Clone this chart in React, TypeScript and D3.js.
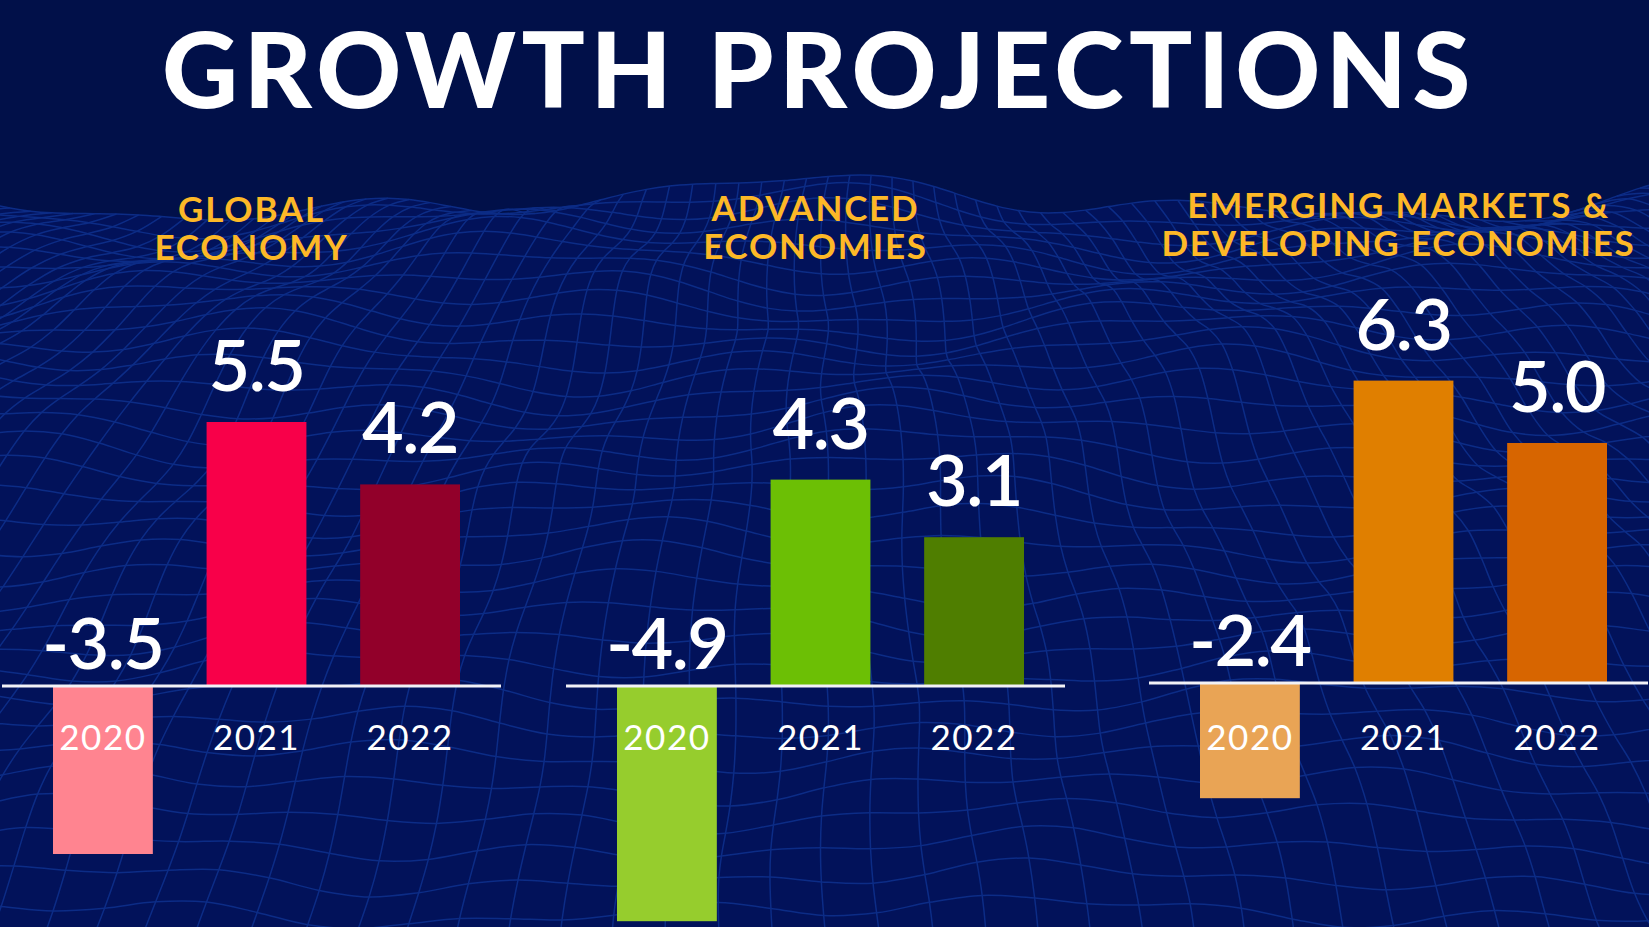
import React from 'react';
import * as d3 from 'd3';

const W = 1649;
const H = 927;

const years = ['2020', '2021', '2022'];
const panelTitleLines = [
  ['GLOBAL', 'ECONOMY'],
  ['ADVANCED', 'ECONOMIES'],
  ['EMERGING MARKETS &', 'DEVELOPING ECONOMIES'],
];
const globalValues = [-3.5, 5.5, 4.2];
const advancedValues = [-4.9, 4.3, 3.1];
const emergingValues = [-2.4, 6.3, 5.0];
const globalColors = ['#FF8490', '#F80049', '#92002A'];
const advancedColors = ['#96CD2D', '#6CBF05', '#4F7E00'];
const emergingColors = ['#E9A455', '#E07F00', '#D76500'];

const panels = [
  { titles: panelTitleLines[0], values: globalValues, colors: globalColors, x0: 2, baseline: 686, titleY: 222 },
  { titles: panelTitleLines[1], values: advancedValues, colors: advancedColors, x0: 566, baseline: 686, titleY: 221 },
  { titles: panelTitleLines[2], values: emergingValues, colors: emergingColors, x0: 1149, baseline: 683, titleY: 218 },
];

const PANEL_W = 499;
const PX_PER_UNIT = 48;

const BG = '#011049';
const BG_MESH = '#02125A';
const MESH = '#0C2C86';
const GOLD = '#FDB827';

function buildMesh() {
  const rows = 36;
  const cols = 96;
  const pts: [number, number][][] = [];
  for (let i = 0; i <= rows; i++) {
    const row: [number, number][] = [];
    const baseY = 200 + 10 * i + 0.35 * i * i;
    const spacing = 22 + i * 0.9;
    const amp = 16 - i * 0.2;
    for (let j = 0; j <= cols; j++) {
      const x = W / 2 + (j - cols / 2) * spacing + Math.sin(i * 0.7 + j * 0.3) * 4;
      const y =
        baseY +
        amp * Math.sin(x / 170 + i * 0.35) +
        amp * 0.6 * Math.sin(x / 73 - i * 0.5) +
        6 * Math.cos(x / 41 + i * 0.9);
      row.push([x, y]);
    }
    pts.push(row);
  }
  return pts;
}

export default function App() {
  const mesh = React.useMemo(buildMesh, []);
  const line = d3.line<[number, number]>().curve(d3.curveCatmullRom);
  const x = d3.scaleBand<string>().domain(years).range([51, 458]).paddingInner(0.35).paddingOuter(0);

  const meshRows = mesh.map((r) => line(r));
  const meshCols = mesh[0].map((_, j) => line(mesh.map((r) => r[j])));
  const topEdge = mesh[0];
  const area = d3
    .area<[number, number]>()
    .curve(d3.curveCatmullRom)
    .x((d) => d[0])
    .y0(H + 50)
    .y1((d) => d[1]);

  return (
    <svg
      width={W}
      height={H}
      viewBox={`0 0 ${W} ${H}`}
      style={{ position: 'absolute', left: 0, top: 0, display: 'block' }}
    >
      <defs>
        <clipPath id="clipAll">
          <rect x={0} y={0} width={W} height={H} />
        </clipPath>
      </defs>
      <rect x={0} y={0} width={W} height={H} fill={BG} />
      <g clipPath="url(#clipAll)">
        <path d={area(topEdge) || ''} fill={BG_MESH} />
        <g fill="none" stroke={MESH} strokeWidth={1.5}>
          {meshRows.map((d, i) => (
            <path key={'r' + i} d={d || ''} />
          ))}
          {meshCols.map((d, i) => (
            <path key={'c' + i} d={d || ''} />
          ))}
        </g>
      </g>

      <text
        x={819}
        y={108}
        textAnchor="middle"
        fill="#FFFFFF"
        fontFamily="Lato, 'Open Sans', sans-serif"
        fontWeight={900}
        fontSize={105}
        letterSpacing={5.5}
      >
        GROWTH PROJECTIONS
      </text>

      {panels.map((p, pi) => {
        const y = d3
          .scaleLinear()
          .domain([-6, 7])
          .range([p.baseline + 6 * PX_PER_UNIT, p.baseline - 7 * PX_PER_UNIT]);
        const cx = p.x0 + PANEL_W / 2;
        return (
          <g key={pi}>
            {p.titles.map((t, ti) => (
              <text
                key={ti}
                x={cx}
                y={p.titleY + ti * 38}
                textAnchor="middle"
                fill={GOLD}
                fontFamily="Lato, 'Open Sans', sans-serif"
                fontWeight={700}
                fontSize={35}
                letterSpacing={1.8}
              >
                {t}
              </text>
            ))}
            {p.values.map((v, i) => {
              const bx = p.x0 + (x(years[i]) as number);
              const bw = x.bandwidth();
              const top = Math.min(y(v), y(0));
              const h = Math.abs(y(v) - y(0));
              return (
                <rect key={'b' + i} x={bx} y={top} width={bw} height={h} fill={p.colors[i]} />
              );
            })}
            <line
              x1={p.x0}
              x2={Math.min(p.x0 + PANEL_W, W)}
              y1={p.baseline}
              y2={p.baseline}
              stroke="#F2F2F7"
              strokeWidth={3}
            />
            {p.values.map((v, i) => {
              const bx = p.x0 + (x(years[i]) as number) + x.bandwidth() / 2;
              const ly = v >= 0 ? y(v) - 31 : y(0) - 17;
              return (
                <text
                  key={'v' + i}
                  x={bx}
                  y={ly}
                  textAnchor="middle"
                  fill="#FFFFFF"
                  fontFamily="Lato, 'Open Sans', sans-serif"
                  fontWeight={600}
                  fontSize={72}
                  letterSpacing={-1.5}
                >
                  {v.toFixed(1)}
                </text>
              );
            })}
            {years.map((yr, i) => (
              <text
                key={'y' + i}
                x={p.x0 + (x(yr) as number) + x.bandwidth() / 2}
                y={750}
                textAnchor="middle"
                fill="#FFFFFF"
                fontFamily="Lato, 'Open Sans', sans-serif"
                fontWeight={400}
                fontSize={35}
                letterSpacing={1.5}
              >
                {yr}
              </text>
            ))}
          </g>
        );
      })}
    </svg>
  );
}
